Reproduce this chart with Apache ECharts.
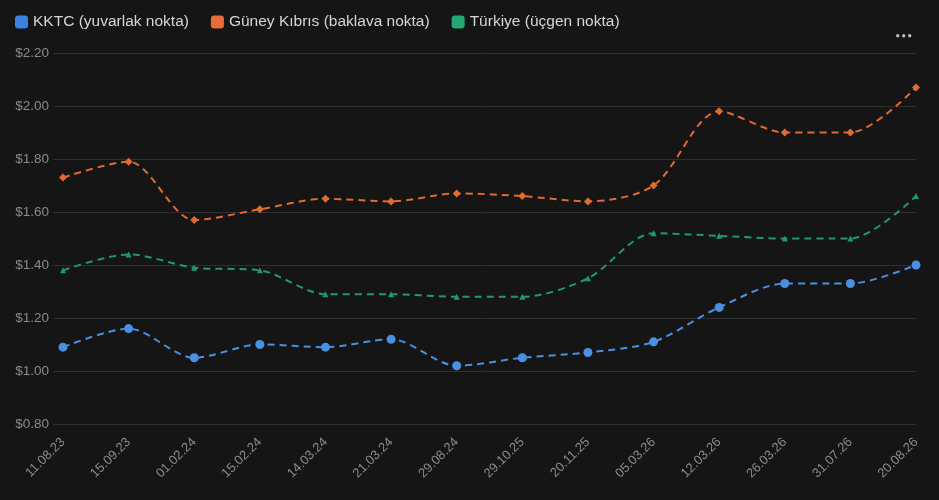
<!DOCTYPE html>
<html>
<head>
<meta charset="utf-8">
<title>KKTC / Güney Kıbrıs / Türkiye</title>
<script src="https://cdn.jsdelivr.net/npm/echarts@6/dist/echarts.min.js"></script>
<style>
    html, body { margin: 0; padding: 0; background: #151515; }
    #chart { width: 939px; height: 500px; }
</style>
</head>
<body>
<div id="chart"></div>
<script>
// ---- data ----
var dates = ['11.08.23', '15.09.23', '01.02.24', '15.02.24', '14.03.24', '21.03.24', '29.08.24',
             '29.10.25', '20.11.25', '05.03.26', '12.03.26', '26.03.26', '31.07.26', '20.08.26'];
var kktc   = [1.09, 1.16, 1.05, 1.10, 1.09, 1.12, 1.02, 1.05, 1.07, 1.11, 1.24, 1.33, 1.33, 1.40];
var guney  = [1.73, 1.79, 1.57, 1.61, 1.65, 1.64, 1.67, 1.66, 1.64, 1.70, 1.98, 1.90, 1.90, 2.07];
var turkey = [1.38, 1.44, 1.39, 1.38, 1.29, 1.29, 1.28, 1.28, 1.35, 1.52, 1.51, 1.50, 1.50, 1.66];
var seriesNames = ['KKTC (yuvarlak nokta)', 'Güney Kıbrıs (baklava nokta)', 'Türkiye (üçgen nokta)'];
var yMin = 0.8, yMax = 2.2, yStep = 0.2;

(function () {
    'use strict';

    var chart = echarts.init(document.getElementById('chart'));
    var font = '"Liberation Sans", Arial, sans-serif';

    // one dashed line series
    function lineSeries(name, data, color, symbol, size) {
        return {
            name: name,
            type: 'line',
            xAxisIndex: 1,
            yAxisIndex: 1,
            data: data,
            smooth: 0.3,
            symbol: symbol,
            symbolSize: size,
            itemStyle: { color: color },
            lineStyle: { color: color, width: 2, type: [7, 5] }
        };
    }

    chart.setOption({
        backgroundColor: '#151515',
        animation: false,
        legend: {
            left: 10,
            top: 9,
            itemWidth: 13,
            itemHeight: 13,
            itemGap: 22,
            icon: 'roundRect',
            textStyle: { color: '#d6d6d6', fontSize: 15.5, fontFamily: font },
            data: [
                { name: seriesNames[0], itemStyle: { color: '#3b82e0' } },
                { name: seriesNames[1], itemStyle: { color: '#ea6c3a' } },
                { name: seriesNames[2], itemStyle: { color: '#22a870' } }
            ]
        },
        // grid 0 carries the y labels and grid lines (wider), grid 1 the lines
        grid: [
            { left: 53, right: 23, top: 53, bottom: 76 },
            { left: 63, right: 23, top: 53, bottom: 76 }
        ],
        xAxis: [
            { type: 'value', gridIndex: 0, show: false },
            {
                type: 'category',
                gridIndex: 1,
                data: dates,
                boundaryGap: false,
                axisLine: { show: false },
                axisTick: { show: false },
                axisLabel: {
                    color: '#8a8a8a',
                    fontSize: 13,
                    fontFamily: font,
                    rotate: 45,
                    margin: 16
                }
            }
        ],
        yAxis: [
            {
                type: 'value',
                gridIndex: 0,
                min: yMin,
                max: yMax,
                interval: yStep,
                axisLine: { show: false },
                axisTick: { show: false },
                axisLabel: {
                    color: '#8a8a8a',
                    fontSize: 13.5,
                    fontFamily: font,
                    margin: 4,
                    formatter: function (v) { return '$' + v.toFixed(2); }
                },
                splitLine: { lineStyle: { color: '#2f2f2f', width: 1 } }
            },
            {
                type: 'value',
                gridIndex: 1,
                min: yMin,
                max: yMax,
                interval: yStep,
                show: false
            }
        ],
        // the "more" menu dots top right
        graphic: [
            { type: 'circle', left: 896, top: 34, shape: { r: 1.7 }, style: { fill: '#bdbdbd' } },
            { type: 'circle', left: 902, top: 34, shape: { r: 1.7 }, style: { fill: '#bdbdbd' } },
            { type: 'circle', left: 908, top: 34, shape: { r: 1.7 }, style: { fill: '#bdbdbd' } }
        ],
        series: [
            lineSeries(seriesNames[0], kktc, '#4a90e2', 'circle', 9),
            lineSeries(seriesNames[1], guney, '#e06a30', 'diamond', 8),
            lineSeries(seriesNames[2], turkey, '#1f9a68', 'triangle', 6)
        ]
    });

    window.addEventListener('resize', function () { chart.resize(); });
})();
</script>
</body>
</html>
